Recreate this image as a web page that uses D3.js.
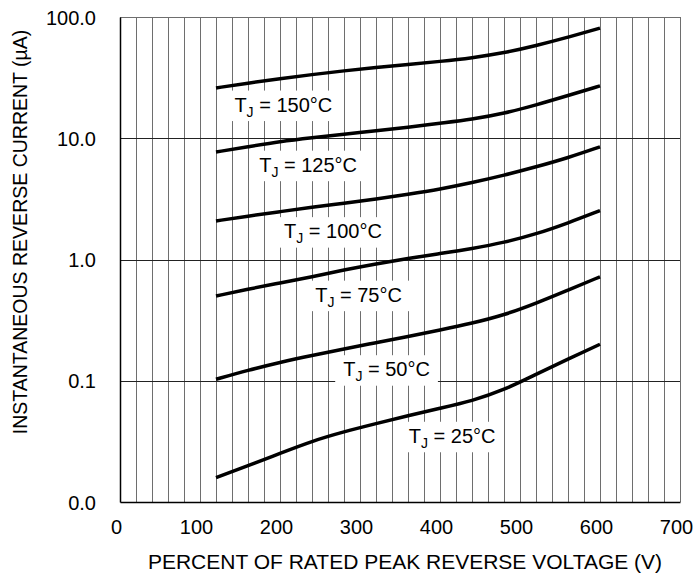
<!DOCTYPE html>
<html>
<head>
<meta charset="utf-8">
<script src="https://cdn.jsdelivr.net/npm/d3@7"></script>
<style>
  body { margin: 0; background: #fff; }
  svg { display: block; font-family: "Liberation Sans", Arial, sans-serif; }
</style>
</head>
<body>
<svg width="696" height="576"></svg>
<script>
// percent of rated peak reverse voltage
var voltage = [120, 160, 200, 240, 280, 320, 360, 400, 440, 480, 520, 560, 600];

// reverse current (uA) per junction temperature
var current150 = [26, 28.5, 31, 33.5, 36, 38.3, 40.5, 43, 46, 50.5, 58, 68, 81];
var current125 = [7.7, 8.5, 9.4, 10.1, 10.8, 11.5, 12.3, 13.3, 14.3, 16.0, 18.8, 22.5, 27];
var current100 = [2.08, 2.28, 2.48, 2.7, 2.91, 3.15, 3.45, 3.8, 4.3, 4.95, 5.8, 6.9, 8.5];
var current75 = [0.50, 0.57, 0.64, 0.72, 0.82, 0.92, 1.02, 1.12, 1.23, 1.38, 1.62, 2.0, 2.53];
var current50 = [0.103, 0.122, 0.142, 0.162, 0.183, 0.206, 0.232, 0.262, 0.298, 0.348, 0.435, 0.56, 0.72];
var current25 = [0.0159, 0.0199, 0.0252, 0.0318, 0.038, 0.0443, 0.0515, 0.0593, 0.0681, 0.0839, 0.113, 0.151, 0.200];

var temps = ["150", "125", "100", "75", "50", "25"];
// label anchors in data units (voltage, current)
var labelVoltage = [143, 174, 205, 244, 279, 361];
var labelCurrent = [16.6, 5.3, 1.50, 0.449, 0.109, 0.0308];

var xTicks = [0, 100, 200, 300, 400, 500, 600, 700];
var yTicks = [0.01, 0.1, 1, 10, 100];
var yTickLabels = ["0.0", "0.1", "1.0", "10.0", "100.0"];

var series = [current150, current125, current100, current75, current50, current25].map(function(vals, i) {
  return {
    temp: temps[i],
    values: vals.map(function(v, j) { return {v: voltage[j], c: v}; })
  };
});

var svg = d3.select("svg"),
    margin = {top: 17, right: 16, bottom: 74, left: 120},
    width = 696 - margin.left - margin.right,
    height = 576 - margin.top - margin.bottom,
    g = svg.append("g").attr("transform", "translate(" + margin.left + "," + margin.top + ")");

var x = d3.scaleLinear().domain([0, 700]).range([0, width]),
    y = d3.scaleLog().domain([0.01, 100]).range([height, 0]);

// vertical grid every 20
var vgrid = d3.range(20, 701, 20);
g.append("g")
  .selectAll("line")
  .data(vgrid)
  .enter().append("line")
    .attr("x1", function(d) { return Math.round(x(d)) + 0.5; })
    .attr("x2", function(d) { return Math.round(x(d)) + 0.5; })
    .attr("y1", 0)
    .attr("y2", height)
    .attr("stroke", "#6e6e6e")
    .attr("stroke-width", 1);

// top border
g.append("line")
    .attr("x1", 0).attr("x2", width)
    .attr("y1", 0.5).attr("y2", 0.5)
    .attr("stroke", "#6e6e6e");

// decade lines
g.append("g")
  .selectAll("line")
  .data([0.1, 1, 10])
  .enter().append("line")
    .attr("x1", 0)
    .attr("x2", width)
    .attr("y1", function(d) { return Math.round(y(d)) + 0.5; })
    .attr("y2", function(d) { return Math.round(y(d)) + 0.5; })
    .attr("stroke", "#222")
    .attr("stroke-width", 1);

// axes
var xAxis = g.append("g")
    .attr("transform", "translate(0," + height + ")")
    .call(d3.axisBottom(x).tickValues(xTicks).tickSize(0).tickPadding(18));
xAxis.select(".domain").attr("stroke", "#000").attr("stroke-width", 1.5);
xAxis.selectAll("text")
    .attr("dx", -4)
    .style("font-size", "20px")
    .attr("fill", "#000");

var yAxis = g.append("g")
    .call(d3.axisLeft(y).tickValues(yTicks).tickSize(0).tickPadding(24)
      .tickFormat(function(d, i) { return yTickLabels[i]; }));
yAxis.select(".domain").attr("stroke", "#000").attr("stroke-width", 1.5);
yAxis.selectAll("text")
    .attr("dy", "0.35em")
    .style("font-size", "20px")
    .attr("fill", "#000");

// labels with white boxes
var labels = g.append("g");
series.forEach(function(s, i) {
  var lx = x(labelVoltage[i]), ly = y(labelCurrent[i]);
  var box = labels.append("rect").attr("fill", "#fff");
  var t = labels.append("text")
      .attr("x", lx)
      .attr("y", ly)
      .style("font-size", "20px")
      .attr("fill", "#000");
  t.append("tspan").text("T");
  t.append("tspan").text("J").style("font-size", "14px").attr("dy", 5);
  t.append("tspan").text(" = " + s.temp + "°C").attr("dy", -5);
  var bb = t.node().getBBox();
  box.attr("x", bb.x - 8)
     .attr("y", ly - 21)
     .attr("width", bb.width + 16)
     .attr("height", 30.5);
});

// curves
var line = d3.line()
    .curve(d3.curveBasis)
    .x(function(d) { return x(d.v); })
    .y(function(d) { return y(d.c); });

g.selectAll(".curve")
  .data(series)
  .enter().append("path")
    .attr("class", "curve")
    .attr("d", function(d) { return line(d.values); })
    .attr("fill", "none")
    .attr("stroke", "#000")
    .attr("stroke-width", 3.5);

// axis titles
svg.append("text")
    .attr("x", 405)
    .attr("y", 569)
    .attr("text-anchor", "middle")
    .style("font-size", "21px")
    .attr("fill", "#000")
    .text("PERCENT OF RATED PEAK REVERSE VOLTAGE (V)");

svg.append("text")
    .attr("transform", "translate(27,232) rotate(-90)")
    .attr("text-anchor", "middle")
    .style("font-size", "19.5px")
    .attr("fill", "#000")
    .text("INSTANTANEOUS REVERSE CURRENT (µA)");
</script>
</body>
</html>
